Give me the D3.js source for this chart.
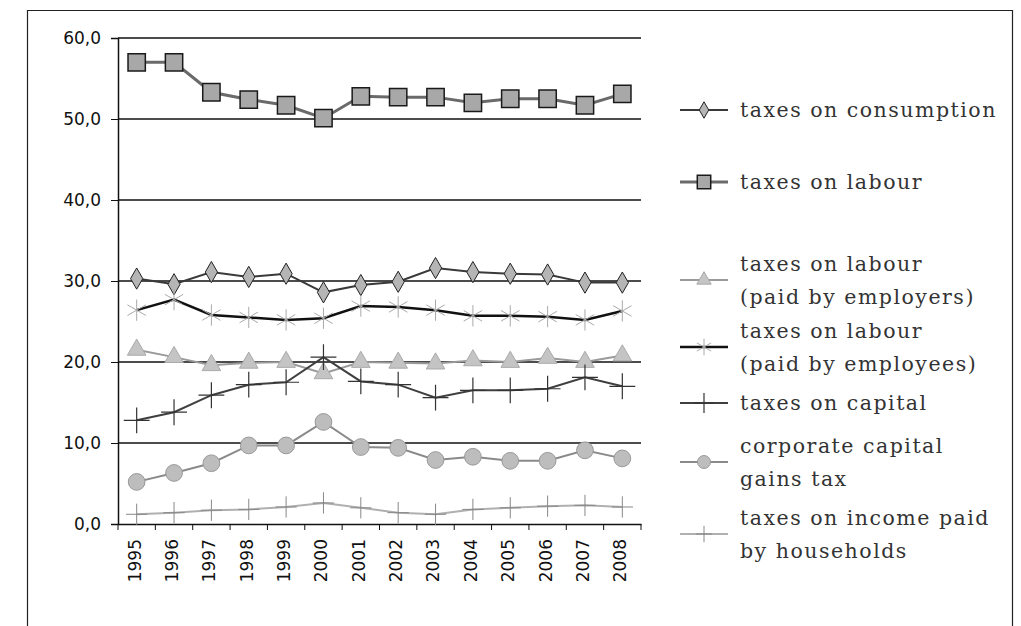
<!DOCTYPE html>
<html lang="en">
<head>
<meta charset="UTF-8"/>
<title>Tax shares 1995-2008</title>
<script src="https://d3js.org/d3.v7.min.js"></script>
<style>
  body { margin: 0; background: #fff; }
  svg { display: block; }
</style>
</head>
<body>
<script>
    // categories and tick values
    var years = ["1995", "1996", "1997", "1998", "1999", "2000", "2001",
                 "2002", "2003", "2004", "2005", "2006", "2007", "2008"];
    var yTicks = [0, 10, 20, 30, 40, 50, 60];

    // series values
    var consumption = [30.3, 29.6, 31.1, 30.5, 30.9, 28.6, 29.5, 29.9, 31.6, 31.1, 30.9, 30.8, 29.8, 29.8];
    var labour      = [57.0, 57.0, 53.3, 52.4, 51.7, 50.1, 52.8, 52.7, 52.7, 52.0, 52.5, 52.5, 51.7, 53.1];
    var employers   = [21.5, 20.6, 19.6, 19.9, 20.0, 18.6, 20.0, 19.9, 19.8, 20.2, 20.0, 20.5, 20.0, 20.8];
    var employees   = [26.4, 27.7, 25.8, 25.5, 25.2, 25.4, 26.9, 26.8, 26.4, 25.7, 25.7, 25.6, 25.2, 26.3];
    var capital     = [12.8, 13.8, 15.9, 17.2, 17.5, 20.6, 17.6, 17.2, 15.6, 16.5, 16.5, 16.7, 18.1, 17.0];
    var corporate   = [5.2, 6.3, 7.5, 9.7, 9.7, 12.6, 9.5, 9.4, 7.9, 8.3, 7.8, 7.8, 9.1, 8.1];
    var households  = [1.2, 1.4, 1.7, 1.8, 2.1, 2.6, 2.0, 1.4, 1.2, 1.8, 2.0, 2.2, 2.3, 2.1];

    var names = ["taxes on consumption", "taxes on labour",
                 "taxes on labour\n(paid by employers)", "taxes on labour\n(paid by employees)",
                 "taxes on capital", "corporate capital\ngains tax",
                 "taxes on income paid\nby households"];

    //build the series table with a style for each line
    var series = [
        { name: names[0], values: consumption, line: "#3a3a3a", lw: 2,   sym: d3.symbolDiamond,  size: 130, fill: "#b5b5b5", stroke: "#222", sw: 1 },
        { name: names[1], values: labour,      line: "#6a6a6a", lw: 3,   sym: d3.symbolSquare,   size: 300, fill: "#a8a8a8", stroke: "#1a1a1a", sw: 1.5 },
        { name: names[2], values: employers,   line: "#9a9a9a", lw: 2,   sym: d3.symbolTriangle, size: 150, fill: "#c4c4c4", stroke: "#aaa", sw: 1 },
        { name: names[3], values: employees,   line: "#111",    lw: 2.5, sym: d3.symbolAsterisk, size: 320, fill: "none",    stroke: "#aaa", sw: 1 },
        { name: names[4], values: capital,     line: "#3f3f3f", lw: 2,   sym: d3.symbolPlus,     size: 220, fill: "none",    stroke: "#333", sw: 1.2 },
        { name: names[5], values: corporate,   line: "#8a8a8a", lw: 2,   sym: d3.symbolCircle,   size: 220, fill: "#bdbdbd", stroke: "#999", sw: 1 },
        { name: names[6], values: households,  line: "#b0b0b0", lw: 2,   sym: d3.symbolPlus,     size: 150, fill: "none",    stroke: "#888", sw: 1 }
    ];

    var w = 1021;
    var h = 626;
    var mLeft = 118, mRight = 641, mTop = 38, mBottom = 524;

    var comma = d3.formatLocale({ decimal: ",", thousands: ".", grouping: [3], currency: ["", ""] }).format(".1f");

    var xScale = d3.scaleBand()
        .domain(years)
        .range([mLeft, mRight]);

    var yScale = d3.scaleLinear()
        .domain([0, 60])
        .range([mBottom, mTop]);

    var svg = d3.select("body")
        .append("svg")
        .attr("width", w)
        .attr("height", h);

    //outer frame, open at the bottom
    svg.append("path")
        .attr("d", "M27.5," + h + "V10.5H1012.5V" + h)
        .attr("fill", "none")
        .attr("stroke", "#222")
        .attr("stroke-width", 1.2);

    //horizontal gridlines
    svg.selectAll("line.grid")
        .data(yTicks.slice(1))
        .enter()
        .append("line")
        .attr("class", "grid")
        .attr("x1", mLeft)
        .attr("x2", mRight)
        .attr("y1", function (d) { return yScale(d); })
        .attr("y2", function (d) { return yScale(d); })
        .attr("stroke", "#111")
        .attr("stroke-width", 1.5);

    //y axis
    var yAxis = d3.axisLeft(yScale)
        .tickValues(yTicks)
        .tickSize(7)
        .tickPadding(10)
        .tickFormat(comma);

    svg.append("g")
        .attr("transform", "translate(" + mLeft + ",0)")
        .call(yAxis)
        .call(function (g) {
            g.select(".domain").attr("stroke", "#111").attr("stroke-width", 1.5);
            g.selectAll(".tick line").attr("stroke", "#111");
            g.selectAll("text")
                .attr("font-family", "DejaVu Sans, Verdana, sans-serif")
                .attr("font-size", "17px")
                .attr("fill", "#111");
        });

    //x axis with ticks between categories
    var xAxis = d3.axisBottom(xScale).tickSize(0).tickFormat("");
    svg.append("g")
        .attr("transform", "translate(0," + mBottom + ")")
        .call(xAxis)
        .call(function (g) {
            g.select(".domain").attr("stroke", "#111").attr("stroke-width", 1.5);
        });

    svg.selectAll("line.xtick")
        .data(years.concat(["end"]))
        .enter()
        .append("line")
        .attr("class", "xtick")
        .attr("x1", function (d) { return d === "end" ? mRight : xScale(d); })
        .attr("x2", function (d) { return d === "end" ? mRight : xScale(d); })
        .attr("y1", mBottom)
        .attr("y2", mBottom + 6)
        .attr("stroke", "#111");

    svg.selectAll("text.year")
        .data(years)
        .enter()
        .append("text")
        .attr("class", "year")
        .text(function (d) { return d; })
        .attr("transform", function (d) {
            return "translate(" + (xScale(d) + xScale.bandwidth() / 2 - 2) + "," + (mBottom + 15) + ") rotate(-90)";
        })
        .attr("text-anchor", "end")
        .attr("dy", "0.35em")
        .attr("font-family", "DejaVu Sans, Verdana, sans-serif")
        .attr("font-size", "17px")
        .attr("fill", "#111");

    //lines and markers
    var line = d3.line()
        .x(function (d, i) { return xScale(years[i]) + xScale.bandwidth() / 2; })
        .y(function (d) { return yScale(d); });

    var groups = svg.selectAll("g.series")
        .data(series)
        .enter()
        .append("g")
        .attr("class", "series");

    groups.append("path")
        .attr("d", function (s) { return line(s.values); })
        .attr("fill", "none")
        .attr("stroke", function (s) { return s.line; })
        .attr("stroke-width", function (s) { return s.lw; });

    groups.each(function (s) {
        d3.select(this).selectAll("path.mark")
            .data(s.values)
            .enter()
            .append("path")
            .attr("class", "mark")
            .attr("d", d3.symbol().type(s.sym).size(s.size))
            .attr("transform", function (d, i) {
                return "translate(" + (xScale(years[i]) + xScale.bandwidth() / 2) + "," + yScale(d) + ")";
            })
            .attr("fill", s.fill)
            .attr("stroke", s.stroke)
            .attr("stroke-width", s.sw);
    });

    //legend
    var legendY = [110, 182, 280, 347, 403, 462, 534];
    var legend = svg.selectAll("g.legend")
        .data(series)
        .enter()
        .append("g")
        .attr("class", "legend")
        .attr("transform", function (s, i) { return "translate(680," + legendY[i] + ")"; });

    legend.append("line")
        .attr("x1", 0).attr("x2", 48)
        .attr("stroke", function (s) { return s.line; })
        .attr("stroke-width", function (s) { return s.lw; });

    legend.append("path")
        .attr("d", function (s) { return d3.symbol().type(s.sym).size(s.size * 0.6)(); })
        .attr("transform", "translate(24,0)")
        .attr("fill", function (s) { return s.fill; })
        .attr("stroke", function (s) { return s.stroke; })
        .attr("stroke-width", function (s) { return s.sw; });

    legend.each(function (s) {
        var rows = s.name.split("\n");
        var t = d3.select(this).append("text")
            .attr("x", 60)
            .attr("font-family", "DejaVu Serif, serif")
            .attr("font-size", "20.5px")
            .attr("letter-spacing", "1.5px")
            .attr("fill", "#333");
        rows.forEach(function (r, j) {
            t.append("tspan")
                .attr("x", 60)
                .attr("y", (j - (rows.length - 1) / 2) * 33)
                .attr("dy", "0.35em")
                .text(r);
        });
    });
</script>
</body>
</html>
